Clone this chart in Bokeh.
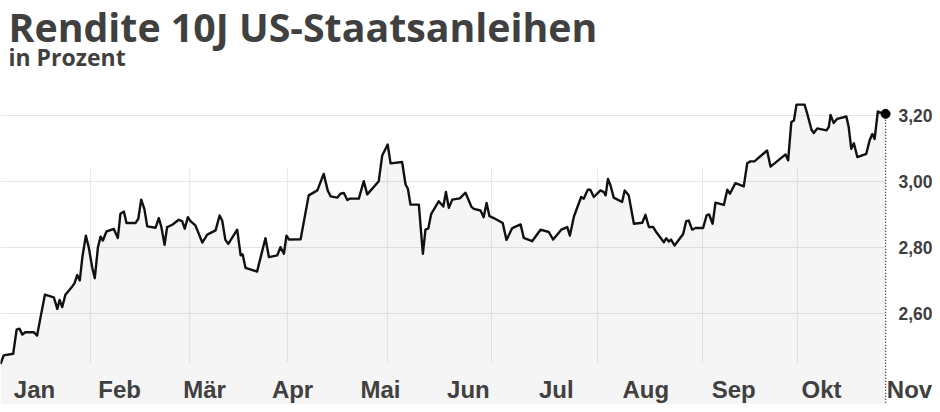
import pandas as pd
from bokeh.plotting import figure
from bokeh.models import LinearAxis, FixedTicker, Label, Range1d
from bokeh.embed import file_html
from bokeh.resources import INLINE

# ---------------- data ----------------
TITLE = "Rendite 10J US-Staatsanleihen"
SUBTITLE = "in Prozent"
YEAR = 2018

# day of year (0 = 1 Jan) and yield in percent
DAY = [3.7, 4.8, 8.1, 9.3, 10.3, 11.3, 12.3, 15.3, 16.4, 17.6, 19.1, 22.2, 23.4, 24.2, 25.1, 26.2, 28.6, 29.4, 30.3, 31.2,
       32.1, 33.3, 34.3, 35.5, 36.4, 37.5, 38.4, 39.2, 40.5, 43.0, 44.4, 45.3, 46.5, 47.4, 50.5, 51.5, 52.5, 53.6, 54.6, 57.5,
       58.6, 59.5, 60.6, 61.5, 63.3, 65.5, 66.7, 67.6, 68.7, 69.6, 71.3, 73.7, 75.4, 78.3, 79.7, 80.6, 81.7, 82.7, 85.8, 87.0,
       87.7, 88.7, 92.7, 94.1, 95.6, 96.8, 99.7, 100.8, 102.0, 102.9, 103.8, 107.8,
       110.6, 113.6, 115.8, 117.2, 118.2, 120.5, 121.6, 122.8, 124.0, 124.9, 128.0, 129.7, 130.9, 134.9, 136.1, 138.0, 139.0,
       143.0, 144.2, 145.0, 145.9, 148.8, 150.2, 151.1, 152.1, 153.1, 155.7, 157.3, 158.2, 159.2, 160.4, 163.0, 165.0, 167.0,
       167.9, 170.2, 171.3, 172.3, 173.3, 174.6, 177.9, 179.2, 181.2, 184.1, 185.2, 188.1, 191.0, 193.9, 195.4, 198.2, 200.3,
       201.2, 202.6, 205.1, 206.0, 207.4, 208.3, 209.5,
       211.8, 213.0, 213.6, 214.4, 215.3, 216.4, 219.3, 220.2, 221.6, 223.4, 226.3, 227.4, 228.6, 230.1, 231.2, 233.8, 234.6,
       235.5, 236.3, 237.5, 240.5, 241.5, 242.4, 243.6, 244.8, 247.4, 248.6, 249.5, 250.7, 251.7, 254.6, 255.8, 256.7, 258.6,
       261.5, 262.7, 263.8, 265.2, 269.6, 270.8, 276.0, 276.9, 278.0, 278.9, 279.8, 282.6, 283.7, 285.0, 285.8, 287.0, 290.2,
       291.0, 291.6, 292.7, 293.9, 297.1, 297.9, 298.8, 299.7, 300.9, 304.0, 305.2, 306.1, 306.9, 308.0, 309.5, 310.7]

YIELD = [2.447, 2.473, 2.478, 2.551, 2.554, 2.536, 2.543, 2.543, 2.533, 2.589, 2.657, 2.649, 2.614, 2.641, 2.619, 2.657,
         2.682, 2.692, 2.717, 2.700, 2.771, 2.836, 2.801, 2.740, 2.707, 2.801, 2.833, 2.821, 2.849, 2.856, 2.829, 2.902,
         2.909, 2.874, 2.874, 2.887, 2.945, 2.917, 2.864, 2.860, 2.889, 2.862, 2.808, 2.862, 2.869, 2.884, 2.880, 2.857,
         2.892, 2.880, 2.867, 2.815, 2.839, 2.852, 2.897, 2.882, 2.823, 2.811, 2.854, 2.776, 2.779, 2.738, 2.727, 2.776,
         2.828, 2.771, 2.776, 2.801, 2.781, 2.836, 2.824, 2.825,
         2.958, 2.973, 3.023, 2.973, 2.955, 2.951, 2.963, 2.965, 2.944, 2.948, 2.948, 3.001, 2.961, 3.001, 3.079, 3.112,
         3.055, 3.059, 2.991, 2.978, 2.930, 2.930, 2.781, 2.854, 2.858, 2.902, 2.940, 2.924, 2.968, 2.920, 2.945, 2.949,
         2.966, 2.924, 2.917, 2.912, 2.892, 2.935, 2.895, 2.890, 2.874, 2.823, 2.859, 2.870, 2.829, 2.819, 2.854, 2.847,
         2.824, 2.854, 2.862, 2.836, 2.894, 2.953, 2.948, 2.975, 2.975, 2.953,
         2.973, 2.968, 2.958, 3.008, 2.988, 2.951, 2.938, 2.973, 2.958, 2.872, 2.875, 2.899, 2.862, 2.862, 2.846, 2.816,
         2.828, 2.818, 2.824, 2.806, 2.841, 2.879, 2.882, 2.854, 2.859, 2.859, 2.897, 2.900, 2.872, 2.936, 2.929, 2.975,
         2.963, 2.995, 2.985, 3.055, 3.061, 3.061, 3.094, 3.045, 3.082, 3.064, 3.180, 3.185, 3.233, 3.233, 3.200, 3.157,
         3.147, 3.161, 3.155, 3.165, 3.202, 3.177, 3.190, 3.197, 3.165, 3.099, 3.116, 3.074, 3.084, 3.126, 3.144, 3.129,
         3.212, 3.207, 3.205]

MONTH_LABELS = ["Jan", "Feb", "Mär", "Apr", "Mai", "Jun", "Jul", "Aug", "Sep", "Okt", "Nov"]
YTICKS = [2.6, 2.8, 3.0, 3.2]
YTICK_LABELS = ["2,60", "2,80", "3,00", "3,20"]
GRID_DAYS = [34.9, 69.3, 103.2, 137.9, 174.0, 210.8, 247.2, 280.1]

assert len(DAY) == len(YIELD)

# ---------------- layout constants ----------------
W, H = 932, 404
X_START, X_END = 3.7, 326.97
Y_START, Y_END = 2.3242, 3.5485
FLOOR = 2.4515        # bottom of the gridded plot area (month labels below)
GRID_TOP = 3.0424     # top of vertical grid lines
AXIS_X = 311.37       # location of the value axis
TXT = "#404040"

# month label positions: middle of each month
starts = pd.date_range(f"{YEAR}-01-01", periods=12, freq="MS")
doy = (starts.dayofyear - 1).to_numpy().astype(float)
mids = [float(v) for v in (doy[:-1] + doy[1:]) / 2][:len(MONTH_LABELS)]

p = figure(width=W, height=H,
           x_range=Range1d(X_START, X_END), y_range=Range1d(Y_START, Y_END),
           x_axis_type=None, y_axis_type=None,
           toolbar_location=None, output_backend="svg",
           min_border_left=0, min_border_right=0, min_border_bottom=0, min_border_top=0,
           outline_line_color=None, background_fill_color="white", border_fill_color="white")

# grid lines
p.segment(x0=GRID_DAYS, y0=FLOOR, x1=GRID_DAYS, y1=GRID_TOP, line_color="#e8e8e8", line_width=1)
p.segment(x0=X_START, y0=YTICKS, x1=DAY[-1], y1=YTICKS, line_color="#e6e6e6", line_width=1)

# area + line
p.varea(x=DAY, y1=Y_START, y2=YIELD, fill_color="black", fill_alpha=0.04)
p.line(DAY, YIELD, line_color="#111111", line_width=2.4, line_join="round")

# dotted marker line and end point
p.segment(x0=DAY[-1], y0=YIELD[-1], x1=DAY[-1], y1=Y_START,
          line_color="#222222", line_width=1.3, line_dash="1 2")
p.scatter([DAY[-1]], [YIELD[-1]], size=9, color="black")

# month axis
xaxis = LinearAxis(ticker=FixedTicker(ticks=mids),
                   major_label_overrides=dict(zip(mids, MONTH_LABELS)),
                   fixed_location=FLOOR,
                   axis_line_color=None, major_tick_line_color=None, minor_tick_line_color=None,
                   major_tick_out=0, major_tick_in=0,
                   major_label_text_font="'Liberation Sans Narrow', 'Liberation Sans', sans-serif",
                   major_label_text_font_style="bold",
                   major_label_text_font_size="24px",
                   major_label_text_color=TXT,
                   major_label_standoff=14)
p.add_layout(xaxis, "below")

# value axis
yaxis = LinearAxis(ticker=FixedTicker(ticks=YTICKS),
                   major_label_overrides=dict(zip(YTICKS, YTICK_LABELS)),
                   fixed_location=AXIS_X,
                   axis_line_color=None, major_tick_line_color=None, minor_tick_line_color=None,
                   major_tick_out=0, major_tick_in=0,
                   major_label_text_font="'Liberation Sans', sans-serif",
                   major_label_text_font_style="bold",
                   major_label_text_font_size="17.5px",
                   major_label_text_color=TXT,
                   major_label_standoff=11)
p.add_layout(yaxis, "right")

# titles (frame fills the whole figure; y measured up from its bottom)
p.add_layout(Label(x=8, y=H - 26.3, x_units="screen", y_units="screen", text=TITLE,
                   text_font="Open Sans", text_font_style="bold", text_font_size="39.3px",
                   text_color=TXT, text_baseline="alphabetic"))
p.add_layout(Label(x=8, y=H - 56.5, x_units="screen", y_units="screen", text=SUBTITLE,
                   text_font="Open Sans", text_font_style="bold", text_font_size="23px",
                   text_color=TXT, text_baseline="alphabetic"))

open("out.html", "w").write(file_html(p, INLINE))
